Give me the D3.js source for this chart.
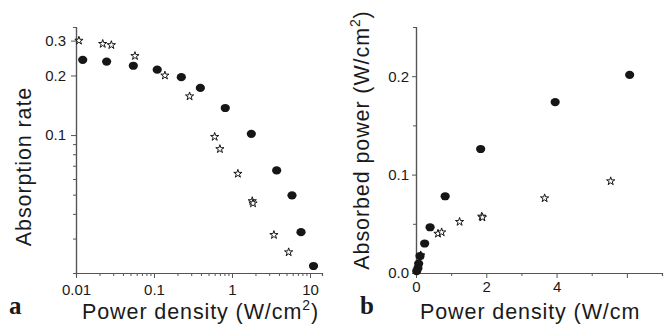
<!DOCTYPE html>
<html><head><meta charset="utf-8">
<script src="https://cdn.jsdelivr.net/npm/d3@7"></script>
<style>
html,body{margin:0;padding:0;background:#fff;}
svg{display:block;}
text{font-family:"Liberation Sans",Arial,Helvetica,sans-serif;fill:#1a1a1a;}
</style></head>
<body>
<svg id="chart" width="672" height="324"></svg>
<script>
// ---------- Data ----------
// Panel a: absorption rate vs power density (log-log)
const circlesA_density = [0.0122, 0.0247, 0.0543, 0.110, 0.224, 0.393, 0.82, 1.77, 3.74, 5.88, 7.67, 11.1];
const circlesA_rate    = [0.240, 0.235, 0.224, 0.214, 0.196, 0.173, 0.137, 0.1015, 0.0663, 0.0496, 0.0323, 0.0218];
const starsA_density   = [0.0109, 0.022, 0.0284, 0.057, 0.138, 0.286, 0.60, 0.70, 1.19, 1.82, 1.86, 3.45, 5.33];
const starsA_rate      = [0.300, 0.289, 0.285, 0.251, 0.200, 0.157, 0.098, 0.085, 0.0638, 0.0464, 0.0452, 0.0313, 0.0256];
// Panel b: absorbed power vs power density (linear)
const circlesB_density = [0.02, 0.055, 0.076, 0.114, 0.246, 0.40, 0.83, 1.84, 3.96, 6.08];
const circlesB_power   = [0.002, 0.005, 0.0096, 0.0173, 0.030, 0.0465, 0.078, 0.126, 0.1737, 0.2014];
const starsB_density   = [0.134, 0.625, 0.73, 1.24, 1.87, 1.89, 3.66, 5.54];
const starsB_power     = [0.018, 0.040, 0.0414, 0.052, 0.0574, 0.0565, 0.076, 0.0933];
// Ticks
const xTicksA_major = [0.01, 0.1, 1, 10];
const xTicksA_labels = ["0.01", "0.1", "1", "10"];
const yTicksA_major = [0.1, 0.2, 0.3];
const yTicksA_labels = ["0.1", "0.2", "0.3"];
const xTicksB_major = [0, 2, 4, 6];
const xTicksB_labels = ["0", "2", "4", ""];
const xTicksB_minor = [1, 3, 5, 7];
const yTicksB_major = [0, 0.1, 0.2];
const yTicksB_labels = ["0.0", "0.1", "0.2"];
const yTicksB_minor = [0.05, 0.15, 0.25];

const svg = d3.select("#chart");
const axisColor = "#555";
const ink = "#161616";

function styleAxis(g){
  g.select(".domain").attr("stroke", axisColor).attr("stroke-width", 1.2);
  g.selectAll(".tick line").attr("stroke", axisColor).attr("stroke-width", 1);
  g.selectAll(".tick text").style("font-size", "15px").attr("fill", "#1a1a1a");
}
function logMinor(lo, hi){
  const out = [];
  for (let e = Math.floor(Math.log10(lo)); e <= Math.ceil(Math.log10(hi)); e++){
    for (let m = 2; m <= 9; m++){ const v = m * Math.pow(10, e); if (v > lo && v < hi) out.push(v); }
  }
  return out;
}
const star = d3.symbol().type(d3.symbolStar).size(21);

// ---------- Panel a ----------
const xA = d3.scaleLog().domain([0.01, 14.26]).range([76, 322]);
const yA = d3.scaleLog().domain([0.0201, 0.3515]).range([273, 27]);

const xMinA = logMinor(0.01, 14.26).filter(v => !yTicksA_major.includes(v) || true);
svg.append("g").attr("transform","translate(0,273)")
  .call(d3.axisBottom(xA).tickValues(xMinA.filter(v=>!xTicksA_major.includes(v))).tickSize(3).tickFormat(""))
  .call(styleAxis);
svg.append("g").attr("transform","translate(0,273)")
  .call(d3.axisBottom(xA).tickValues(xTicksA_major).tickSize(5).tickPadding(6).tickSizeOuter(0)
    .tickFormat((d,i)=>xTicksA_labels[i]))
  .call(styleAxis);

const yMinA = logMinor(0.0201, 0.3515).filter(v => !yTicksA_major.some(t=>Math.abs(t-v)<1e-9));
svg.append("g").attr("transform","translate(76,0)")
  .call(d3.axisLeft(yA).tickValues(yMinA).tickSize(3).tickFormat(""))
  .call(styleAxis);
svg.append("g").attr("transform","translate(76,0)")
  .call(d3.axisLeft(yA).tickValues(yTicksA_major).tickSize(5).tickPadding(5).tickSizeOuter(0)
    .tickFormat((d,i)=>yTicksA_labels[i]))
  .call(styleAxis);

svg.append("g").selectAll("ellipse").data(circlesA_density).join("ellipse")
  .attr("cx",(d)=>xA(d)).attr("cy",(d,i)=>yA(circlesA_rate[i]))
  .attr("rx",4.6).attr("ry",4.1).attr("fill",ink);
svg.append("g").selectAll("path").data(starsA_density).join("path")
  .attr("d",star).attr("transform",(d,i)=>`translate(${xA(d)},${yA(starsA_rate[i])})`)
  .attr("fill","#fff").attr("stroke",ink).attr("stroke-width",1);

// axis titles a
svg.append("text").attr("x",82).attr("y",318.5).style("font-size","21.5px").style("letter-spacing","0.9px")
  .text("Power density (W/cm").append("tspan").attr("dy",-9).style("font-size","14px").text("2")
  .select(function(){return this.parentNode;}).append("tspan").attr("dy",9).style("font-size","21.5px").text(")");
svg.append("text").attr("transform","translate(31,166.5) rotate(-90)").attr("text-anchor","middle")
  .style("font-size","21.5px").style("letter-spacing","0.9px").text("Absorption rate");
svg.append("text").attr("x",9).attr("y",314).style("font-family","'Liberation Serif','Times New Roman',serif")
  .style("font-weight","bold").style("font-size","25px").text("a");

// ---------- Panel b ----------
const xB = d3.scaleLinear().domain([0, 7]).range([416, 662]);
const yB = d3.scaleLinear().domain([0, 0.25]).range([273, 27]);

svg.append("g").attr("transform","translate(0,273)")
  .call(d3.axisBottom(xB).tickValues(xTicksB_minor).tickSize(3).tickFormat(""))
  .call(styleAxis);
svg.append("g").attr("transform","translate(0,273)")
  .call(d3.axisBottom(xB).tickValues(xTicksB_major).tickSize(5).tickPadding(3).tickSizeOuter(0)
    .tickFormat((d,i)=>xTicksB_labels[i]))
  .call(styleAxis);
svg.append("g").attr("transform","translate(416,0)")
  .call(d3.axisLeft(yB).tickValues(yTicksB_minor).tickSize(3).tickFormat(""))
  .call(styleAxis);
svg.append("g").attr("transform","translate(416,0)")
  .call(d3.axisLeft(yB).tickValues(yTicksB_major).tickSize(4).tickPadding(3).tickSizeOuter(0)
    .tickFormat((d,i)=>yTicksB_labels[i]))
  .call(styleAxis);

svg.append("g").selectAll("path").data(starsB_density).join("path")
  .attr("d",star).attr("transform",(d,i)=>`translate(${xB(d)},${yB(starsB_power[i])})`)
  .attr("fill","#fff").attr("stroke",ink).attr("stroke-width",1);
svg.append("g").selectAll("ellipse").data(circlesB_density).join("ellipse")
  .attr("cx",(d)=>xB(d)).attr("cy",(d,i)=>yB(circlesB_power[i]))
  .attr("rx",4.6).attr("ry",4.1).attr("fill",ink);

svg.append("text").attr("x",420).attr("y",318.5).style("font-size","21.5px").style("letter-spacing","0.9px")
  .text("Power density (W/cm");
const tb = svg.append("text").attr("transform","translate(369,140) rotate(-90)").attr("text-anchor","middle")
  .style("font-size","21.5px").style("letter-spacing","0.9px");
tb.append("tspan").text("Absorbed power (W/cm");
tb.append("tspan").attr("dy",-9).style("font-size","14px").text("2");
tb.append("tspan").attr("dy",9).text(")");
svg.append("text").attr("x",360).attr("y",314).style("font-family","'Liberation Serif','Times New Roman',serif")
  .style("font-weight","bold").style("font-size","25px").text("b");
</script>
</body></html>
